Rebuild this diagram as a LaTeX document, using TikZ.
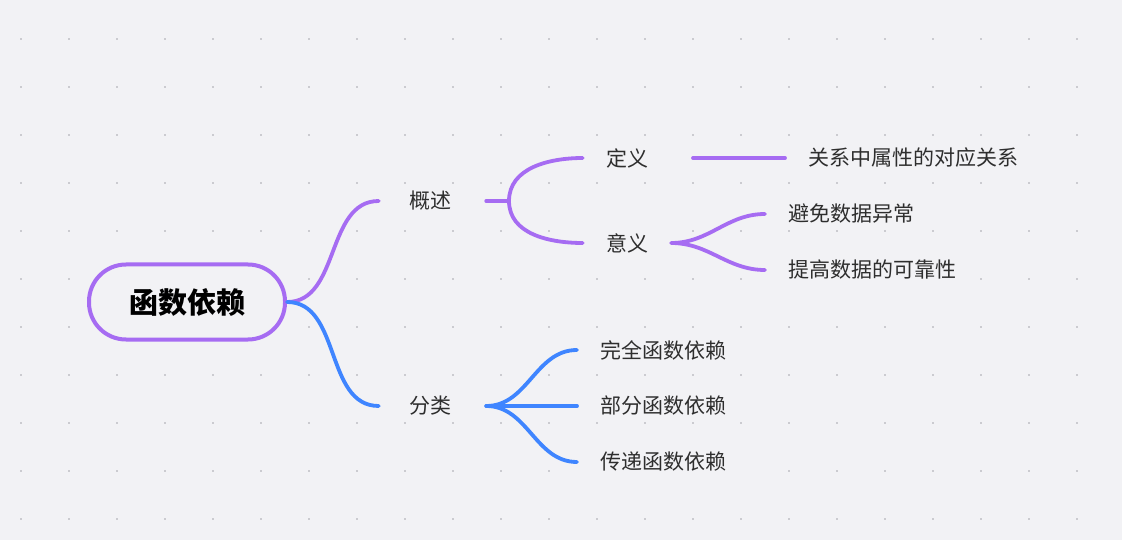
\documentclass[tikz,border=0pt]{standalone}
\usepackage{fontspec}
\setmainfont{Noto Sans CJK SC}
\usetikzlibrary{positioning}
\definecolor{bgc}{HTML}{F2F2F5}
\definecolor{dotc}{HTML}{CBCBD0}
\definecolor{purp}{HTML}{A66CF2}
\definecolor{bluec}{HTML}{3F85FF}
\definecolor{txt}{HTML}{2E2E2E}
\tikzset{
    root/.style={draw=purp, line width=4pt, rounded corners=37pt, fill=bgc, text=black,
        minimum width=196pt, minimum height=75pt, font=\fontsize{29}{34}\selectfont\bfseries},
    topic/.style={fill=bgc, text=txt, inner ysep=4pt, font=\fontsize{21}{25}\selectfont},
    main/.style={topic, inner xsep=30pt},
    sub/.style={topic, inner xsep=23pt},
    leaf/.style={topic, anchor=west, inner xsep=23pt},
    branch/.style={line width=3.8pt, line cap=round},
    pline/.style={branch, draw=purp},
    bline/.style={branch, draw=bluec}
}
\begin{document}
\begin{tikzpicture}[x=1pt, y=-1pt]
    % background and dots
    \fill[bgc] (0,0) rectangle (1122,540);
    \useasboundingbox (0,0) rectangle (1122,540);
    \foreach \i in {0,...,22}
        \foreach \j in {0,...,10}
            \fill[dotc] (20+48*\i, 38+48*\j) rectangle ++(2.2,2.2);

    % Nodes
    \node[root] (root) at (187,302) {函数依赖};
    \node[main] (gaishu) at (430,201) {概述};
    \node[main] (fenlei) at (430,406) {分类};
    \node[sub] (dingyi) at (627,158) {定义};
    \node[sub] (yiyi) at (627,243) {意义};
    \node[leaf] (rel) at (785,158) {关系中属性的对应关系};
    \node[leaf] (avoid) at (765,214) {避免数据异常};
    \node[leaf] (improve) at (765,270) {提高数据的可靠性};
    \node[leaf] (full) at (577,350) {完全函数依赖};
    \node[leaf] (part) at (577,406) {部分函数依赖};
    \node[leaf] (trans) at (577,462) {传递函数依赖};
    \coordinate (gsfork) at (509,201);
    \coordinate (dyend) at (693,158);

    % edges
    \draw[pline] (root.east) to[out=0, in=180] (gaishu.west);
    \draw[bline] (root.east) to[out=0, in=180] (fenlei.west);
    \draw[pline] ([xshift=5pt]gaishu.east) -- (gsfork);
    \draw[pline] (gsfork) to[out=90, in=180] (dingyi.west);
    \draw[pline] (gsfork) to[out=-90, in=180] (yiyi.west);
    \draw[pline] (dyend) -- (rel.west);
    \draw[pline] (yiyi.east) to[out=0, in=180] (avoid.west);
    \draw[pline] (yiyi.east) to[out=0, in=180] (improve.west);
    \draw[bline] ([xshift=5pt]fenlei.east) to[out=0, in=180] (full.west);
    \draw[bline] ([xshift=5pt]fenlei.east) -- (part.west);
    \draw[bline] ([xshift=5pt]fenlei.east) to[out=0, in=180] (trans.west);
\end{tikzpicture}
\end{document}
